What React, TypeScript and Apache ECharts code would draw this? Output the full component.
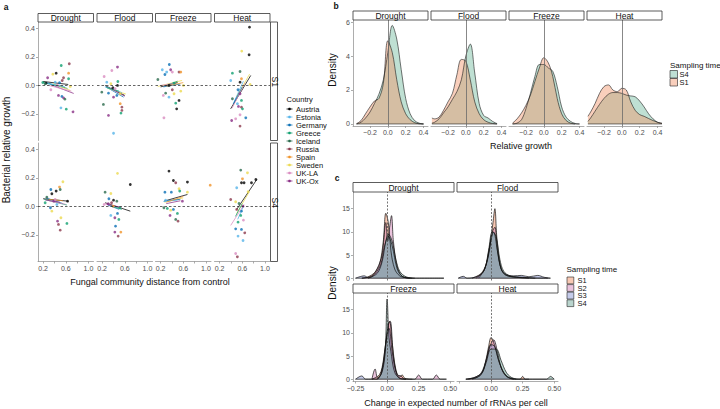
import React, { useEffect, useRef } from "react";
import * as echarts from "echarts";

const FONT = "'Liberation Sans', Arial, Helvetica, sans-serif";

// ---------------- Panel a data ----------------
const countries = ["Austria", "Estonia", "Germany", "Greece", "Iceland", "Russia", "Spain", "Sweden", "UK-LA", "UK-Ox"];
const countryColors = ["#000000", "#56B4E9", "#0a6fb5", "#10a070", "#2a6a4c", "#8c3a4e", "#f0932a", "#ecd94f", "#d98cc0", "#8a2f86"];
const stresses = ["Drought", "Flood", "Freeze", "Heat"];
const timesA = ["S1", "S4"];

// [fungal distance, bacterial relative growth, country index]
const ptsDroughtS1 = [[0.195,0.021,3],[0.253,0.016,0],[0.28,0.054,9],[0.337,-0.03,8],[0.372,0.079,7],[0.431,0.086,0],[0.49,0.019,2],[0.52,0.14,3],[0.538,0.035,5],[0.65,0.086,6],[0.662,0.152,5],[0.65,0.047,3],[0.532,-0.077,2],[0.561,-0.087,9],[0.585,-0.096,4],[0.515,-0.157,1],[0.609,-0.166,3],[0.728,-0.185,9],[0.561,0.054,5],[0.413,0.023,1],[0.236,0.012,4],[0.472,-0.07,9],[0.455,0,8],[0.68,-0.007,7]];
const ptsFloodS1 = [[0.236,0.063,8],[0.472,0.129,9],[0.372,0.105,8],[0.283,0.023,1],[0.355,0.012,7],[0.472,0,0],[0.478,0.028,3],[0.39,-0.016,0],[0.195,-0.047,4],[0.313,-0.054,2],[0.402,-0.082,9],[0.46,-0.07,2],[0.52,-0.128,6],[0.55,-0.175,5],[0.533,-0.194,3],[0.223,-0.133,4],[0.313,-0.21,9],[0.402,-0.335,1],[0.52,-0.058,7],[0.55,-0.152,5],[0.43,-0.023,8]];
const ptsFreezeS1 = [[0.152,0.042,4],[0.23,0.11,1],[0.276,0.077,2],[0.307,0.094,1],[0.354,0.147,2],[0.378,0.11,9],[0.407,0.094,8],[0.526,0.094,5],[0.556,0.094,6],[0.248,-0.07,8],[0.289,-0.054,4],[0.348,-0.082,1],[0.259,-0.227,8],[0.407,-0.03,5],[0.437,-0.058,7],[0.556,-0.04,7],[0.526,-0.105,0],[0.467,-0.124,3],[0.484,-0.164,0],[0.603,0,7],[0.437,0.016,3],[0.348,0.0,0]];
const ptsHeatS1 = [[0.728,0.409,0],[0.721,0.215,0],[0.591,0.241,7],[0.426,0.086,3],[0.561,0.098,4],[0.396,0.035,1],[0.561,0.023,0],[0.586,0.047,6],[0.739,0.007,7],[0.525,-0.03,2],[0.561,-0.058,9],[0.426,-0.093,4],[0.586,-0.105,3],[0.533,-0.147,9],[0.586,-0.152,5],[0.604,-0.164,3],[0.561,-0.206,8],[0.484,-0.234,8],[0.662,-0.227,2],[0.413,-0.246,9],[0.561,-0.285,5],[0.515,-0.128,1]];
const ptsDroughtS4 = [[0.236,0.026,3],[0.266,0.065,4],[0.337,0.119,2],[0.355,0.089,0],[0.431,0.108,0],[0.49,0.136,6],[0.502,0.119,4],[0.55,0.173,7],[0.632,0.037,0],[0.355,-0.033,7],[0.515,-0.079,7],[0.455,-0.103,9],[0.472,-0.126,5],[0.621,-0.119,3],[0.502,-0.166,5],[0.388,0.037,9],[0.413,0.049,8],[0.33,-0.009,2],[0.443,0.014,1]];
const ptsFloodS4 = [[0.253,0.1,4],[0.355,0.091,7],[0.472,0.232,7],[0.698,0.154,0],[0.402,0.044,0],[0.46,0.037,4],[0.32,0.054,2],[0.237,0.014,8],[0.308,0.019,9],[0.367,0.026,5],[0.396,0.002,6],[0.354,-0.063,1],[0.472,-0.049,2],[0.425,-0.079,9],[0.496,-0.091,3],[0.437,-0.138,2],[0.425,-0.18,9],[0.531,-0.18,6],[0.484,-0.208,5],[0.514,-0.009,3]];
const ptsFreezeS4 = [[0.348,0.248,0],[0.426,0.182,0],[0.467,0.166,5],[0.674,0.171,0],[1.076,0.149,6],[0.276,0.1,2],[0.39,0.1,2],[0.526,0.124,7],[0.538,0.108,3],[0.674,0.1,7],[0.259,-0.009,4],[0.319,-0.014,3],[0.378,-0.026,7],[0.426,-0.021,2],[0.367,-0.063,9],[0.497,-0.049,3],[0.467,-0.091,4],[0.508,-0.103,5],[0.585,0.037,9],[0.289,0.044,1]];
const ptsHeatS4 = [[0.573,0.255,4],[0.692,0.236,7],[0.604,0.194,6],[0.586,0.166,0],[0.632,0.166,0],[0.763,0.166,0],[0.84,0.189,0],[0.502,0.131,1],[0.704,0.103,7],[0.396,0.049,5],[0.484,0.033,7],[0.543,0.021,4],[0.614,0.002,9],[0.502,-0.021,5],[0.573,-0.063,3],[0.526,-0.11,3],[0.621,-0.096,8],[0.484,-0.157,2],[0.586,-0.161,2],[0.644,-0.185,5],[0.526,-0.208,1],[0.614,-0.239,1],[0.484,-0.33,8],[0.514,-0.353,5],[0.586,-0.033,2]];

// fitted lines: [x1, y1, x2, y2, country index]
const linDroughtS1 = [[0.2,0.028,0.644,0.007,0],[0.33,0.007,0.74,-0.056,9],[0.24,0.021,0.59,-0.014,2],[0.2,0.021,0.63,-0.021,3],[0.37,0.014,0.68,-0.035,7],[0.26,0.014,0.58,-0.007,1],[0.3,0.0,0.7,-0.04,8]];
const linFloodS1 = [[0.25,0.0,0.6,-0.07,0],[0.27,-0.01,0.58,-0.082,2],[0.3,-0.02,0.62,-0.06,7],[0.25,-0.01,0.55,-0.05,1],[0.35,-0.02,0.6,-0.075,9],[0.28,-0.015,0.5,-0.04,3]];
const linFreezeS1 = [[0.15,-0.007,0.58,0.035,7],[0.2,-0.01,0.5,0.02,0],[0.25,-0.01,0.55,0.01,2],[0.3,0.0,0.5,0.03,3],[0.2,0.0,0.45,0.015,8],[0.3,-0.005,0.6,0.02,6]];
const linHeatS1 = [[0.395,-0.164,0.75,0.07,0],[0.42,-0.16,0.65,0.02,8],[0.45,-0.12,0.62,0.03,1],[0.5,-0.08,0.73,0.08,7],[0.44,-0.13,0.6,-0.01,2]];
const linDroughtS4 = [[0.2,0.054,0.645,0.037,0],[0.22,0.05,0.62,0.01,3],[0.25,0.06,0.55,0.02,2],[0.3,0.04,0.6,0.015,8],[0.24,0.045,0.5,0.03,9],[0.3,0.05,0.55,0.04,6]];
const linFloodS4 = [[0.253,0.026,0.698,-0.033,0],[0.25,0.02,0.55,-0.01,8],[0.3,0.01,0.5,-0.02,2],[0.28,0.015,0.52,-0.005,9],[0.35,0.005,0.55,-0.02,3]];
const linFreezeS4 = [[0.259,0.037,0.674,0.084,0],[0.27,0.03,0.6,0.06,7],[0.28,0.04,0.55,0.05,2],[0.3,0.02,0.55,0.04,9],[0.25,0.035,0.5,0.045,1],[0.3,0.03,0.6,0.07,6]];
const linHeatS4 = [[0.502,-0.021,0.858,0.19,0],[0.396,-0.133,0.632,0.014,8],[0.5,-0.05,0.72,0.1,7],[0.52,-0.09,0.62,0.0,1],[0.48,-0.07,0.6,0.02,3]];

const aXTicks = [0.2, 0.4, 0.6, 0.8, 1.0];
const aXLabels = [0.2, 0.6, 1.0];
const aYTicks = [-0.2, 0, 0.2, 0.4];

// ---------------- Panel b data ----------------
const bX = [-0.38,-0.35,-0.3,-0.25,-0.2,-0.15,-0.1,-0.05,0,0.05,0.1,0.15,0.2,0.25,0.3,0.35,0.4,0.45];
const bDroughtS4 = [null,0,0.1,0.35,0.7,1.2,1.75,2.6,4.2,5.8,5.0,3.2,1.5,0.6,0.2,0.05,0,null];
const bDroughtS1 = [null,0.02,0.2,0.6,1.0,1.35,1.5,2.4,4.9,4.2,2.6,1.3,0.6,0.25,0.08,0.01,0,null];
const bFloodS4 = [0.05,0.1,0.3,0.65,1.0,1.45,1.9,2.6,4.0,4.7,3.0,1.2,0.5,0.35,0.15,0.02,null,null];
const bFloodS1 = [0.35,0.3,0.4,0.8,1.3,1.8,2.9,3.8,3.7,2.6,1.3,0.6,0.25,0.1,0.03,0,null,null];
const bFreezeS4 = [null,0,0.05,0.25,0.9,1.8,2.8,3.5,3.5,3.3,3.1,2.2,1.0,0.4,0.15,0.03,0,null];
const bFreezeS1 = [null,0.05,0.3,0.65,1.1,1.7,2.5,3.3,3.9,3.6,2.8,1.5,0.6,0.2,0.05,0,null,null];
const bHeatS4 = [0.15,0.35,0.75,1.15,1.5,1.75,1.85,1.85,1.8,1.7,1.65,1.6,1.35,1.0,0.6,0.3,0.1,0.02];
const bHeatS1 = [0.45,0.7,1.2,1.8,2.2,2.3,2.0,1.9,2.1,2.0,1.3,0.8,0.55,0.45,0.32,0.2,0.1,0.05];
const bTimes = ["S4", "S1"];
const bXTicks = [-0.2, 0, 0.2, 0.4];
const bYTicks = [0, 2, 4, 6];

// ---------------- Panel c data ----------------
const cDroughtS1 = [[-0.2,0],[-0.15,0.3],[-0.1,1.2],[-0.06,3],[-0.03,8],[-0.01,14],[0.01,12],[0.03,6],[0.06,2],[0.1,0.5],[0.15,0.1],[0.2,0]];
const cDroughtS2 = [[-0.2,0],[-0.12,0.5],[-0.08,2],[-0.04,5],[-0.01,12],[0.005,8],[0.02,11],[0.035,13.5],[0.05,8],[0.08,2.5],[0.12,0.4],[0.18,0]];
const cDroughtS3 = [[-0.25,0],[-0.18,0.5],[-0.15,0.1],[-0.1,0.8],[-0.05,3],[-0.02,7],[0.01,9],[0.04,7],[0.08,2],[0.12,0.4],[0.2,0],[0.45,0]];
const cDroughtS4 = [[-0.15,0],[-0.08,1],[-0.04,3.5],[-0.01,8],[0.01,9.5],[0.04,8],[0.07,4],[0.1,1.5],[0.15,0.3],[0.22,0]];
const cFloodS1 = [[-0.15,0],[-0.08,1],[-0.04,3],[-0.01,7],[0.015,12],[0.03,15],[0.045,9],[0.07,3],[0.1,1],[0.15,0.4],[0.2,0.2],[0.3,0.05],[0.45,0]];
const cFloodS2 = [[-0.12,0],[-0.06,1.5],[-0.02,5],[0.01,10],[0.03,11],[0.05,6],[0.08,2],[0.12,0.6],[0.2,0.2],[0.3,0]];
const cFloodS3 = [[-0.26,0],[-0.22,0.4],[-0.19,0],[-0.1,0.5],[-0.05,2],[-0.01,7],[0.02,10],[0.05,6],[0.08,2],[0.12,0.8],[0.18,0.5],[0.24,0.6],[0.3,0.3],[0.37,0.6],[0.42,0.2],[0.47,0]];
const cFloodS4 = [[-0.1,0],[-0.05,2],[-0.02,6],[0.01,10],[0.04,9],[0.07,4],[0.1,1.5],[0.15,0.5],[0.25,0.2],[0.35,0]];
const cFreezeS1 = [[-0.12,0],[-0.06,1],[-0.03,4],[0,10],[0.02,12.5],[0.04,8],[0.07,2],[0.1,0.5],[0.12,0.9],[0.14,0.2],[0.2,0]];
const cFreezeS2 = [[-0.12,0],[-0.095,2.2],[-0.075,0.3],[-0.05,1],[-0.02,5],[0.01,12],[0.025,12.5],[0.05,5],[0.08,1],[0.11,0.7],[0.14,0],[0.22,0],[0.25,0.9],[0.28,0],[0.36,0],[0.39,0.9],[0.42,0],[0.47,0]];
const cFreezeS3 = [[-0.25,0],[-0.2,0.7],[-0.17,0],[-0.08,0],[-0.04,2],[-0.01,8],[0.015,11],[0.04,6],[0.07,1.5],[0.1,0.2],[0.15,0]];
const cFreezeS4 = [[-0.08,0],[-0.04,1.5],[-0.015,6],[0,17.3],[0.015,9],[0.03,6],[0.06,1.5],[0.1,0.2],[0.15,0]];
const cHeatS1 = [[-0.2,0],[-0.12,0.3],[-0.08,1],[-0.05,3],[-0.02,7],[0,9],[0.02,8],[0.05,5],[0.08,2.5],[0.11,1],[0.15,0.2],[0.2,0],[0.23,0],[0.25,0.6],[0.27,0],[0.3,0]];
const cHeatS2 = [[-0.18,0],[-0.12,0.5],[-0.07,1.5],[-0.04,4],[-0.01,7],[0.02,8.5],[0.05,6],[0.08,2.5],[0.12,0.6],[0.18,0]];
const cHeatS3 = [[-0.2,0],[-0.13,0.4],[-0.08,1.3],[-0.04,4],[0,7.5],[0.03,7],[0.06,4],[0.1,1.5],[0.14,0.4],[0.2,0]];
const cHeatS4 = [[-0.15,0],[-0.08,1],[-0.04,3.5],[0,6.5],[0.04,6.5],[0.08,4],[0.12,1.5],[0.16,0.4],[0.22,0],[0.44,0],[0.47,0.6],[0.5,0]];
const cStresses = ["Drought", "Flood", "Freeze", "Heat"];
const cTimes = ["S1", "S2", "S3", "S4"];
const cXTicks = [-0.25, 0, 0.25, 0.5];
const cXLabelsRight = [0, 0.25, 0.5];
const cYTicks = [0, 5, 10, 15];

// ---------------- styles & layout ----------------
const AXIS = "#8a8a8a";
const LBL = "#4d4d4d";
const bFill: Record<string, string> = { S4: "rgba(109,185,155,0.44)", S1: "rgba(241,145,103,0.44)" };
const cFill: Record<string, string> = { S1: "rgba(241,145,103,0.5)", S2: "rgba(214,135,185,0.5)", S3: "rgba(140,152,214,0.5)", S4: "rgba(115,170,155,0.5)" };

const A_LEFTS = [38, 97, 155.5, 214.5], A_W = 55.5, A_TOPS = [22, 143], A_H = 118.5;
const B_LEFTS = [353, 431, 509, 587], B_W = 75, B_TOP = 20, B_H = 106;
const C_LEFTS = [353, 457], C_W = 101, C_TOPS = [192, 293], C_H = 88.5;

const minus = (s: string) => s.replace("-", "\u2212");

function buildOption() {
  const grid: any[] = [], xAxis: any[] = [], yAxis: any[] = [], series: any[] = [], els: any[] = [];

  const axis = (gi: number, range: number[], show: boolean, ticks: number[], labels: number[], dec: number) => ({
    type: "value", gridIndex: gi, min: range[0], max: range[1],
    splitLine: { show: false },
    axisLine: { show, onZero: false, lineStyle: { color: AXIS, width: 0.7 } },
    axisTick: { show, length: 2, customValues: ticks, lineStyle: { color: AXIS, width: 0.7 } },
    axisLabel: { show, customValues: labels, margin: 3, fontSize: 7, fontFamily: FONT, color: LBL,
      formatter: (v: number) => minus(v.toFixed(dec)) },
  });
  const txt = (x: number, y: number, text: string, size: number, o: any = {}) => ({
    type: "text", x, y, rotation: o.rot || 0, z: 100,
    style: { text, fontSize: size, fontFamily: FONT, fill: o.color || "#111", fontWeight: o.bold ? "bold" : "normal",
      align: o.align || "center", textAlign: o.align || "center", verticalAlign: "middle", textVerticalAlign: "middle" },
  });
  const strip = (x: number, y: number, w: number, h: number, text: string, vertical = false) => {
    els.push({ type: "rect", z: 99, shape: { x, y, width: w, height: h }, style: { fill: "#fff", stroke: "#333", lineWidth: 0.8 } });
    els.push(txt(x + w / 2 + (vertical ? 0.5 : 0), y + h / 2 + 0.5, text, 8.5, vertical ? { rot: -Math.PI / 2 } : {}));
  };

  // ----- Panel a -----
  const ptsA = [[ptsDroughtS1, ptsFloodS1, ptsFreezeS1, ptsHeatS1], [ptsDroughtS4, ptsFloodS4, ptsFreezeS4, ptsHeatS4]];
  const linA = [[linDroughtS1, linFloodS1, linFreezeS1, linHeatS1], [linDroughtS4, linFloodS4, linFreezeS4, linHeatS4]];
  timesA.forEach((t, r) => {
    stresses.forEach((s, c) => {
      const gi = grid.length;
      grid.push({ left: A_LEFTS[c], top: A_TOPS[r], width: A_W, height: A_H });
      xAxis.push(axis(gi, [0.11, 1.09], r === 1, aXTicks, aXLabels, 1));
      yAxis.push(axis(gi, [-0.386, 0.445], c === 0, aYTicks, aYTicks, 1));
      series.push({
        type: "lines", coordinateSystem: "cartesian2d", xAxisIndex: gi, yAxisIndex: gi, silent: true, z: 3,
        lineStyle: { width: 0.75, opacity: 1 },
        data: linA[r][c].map((l) => ({ coords: [[l[0], l[1]], [l[2], l[3]]], lineStyle: { color: countryColors[l[4]] } })),
      });
      series.push({
        type: "scatter", xAxisIndex: gi, yAxisIndex: gi, symbol: "circle", symbolSize: 2.8, silent: true, z: 4,
        data: ptsA[r][c].map((p) => ({ value: [p[0], p[1]], itemStyle: { color: countryColors[p[2]] } })),
        markLine: { silent: true, symbol: ["none", "none"], label: { show: false },
          lineStyle: { type: [2.5, 2], color: "#222", width: 0.7 }, data: [{ yAxis: 0 }] },
      });
      if (r === 0) strip(A_LEFTS[c], 13.5, A_W, 8.5, s);
    });
    strip(A_LEFTS[3] + A_W + 0.5, A_TOPS[r], 7, A_H, t, true);
  });
  els.push(txt(6, 7, "a", 8.5, { bold: true }));
  els.push(txt(6, 150, "Bacterial relative growth", 10, { rot: Math.PI / 2 }));
  els.push(txt(150, 282, "Fungal community distance from control", 9));
  // Country legend
  els.push(txt(286.5, 99.5, "Country", 7.5, { align: "left" }));
  countries.forEach((n, i) => {
    const y = 109 + i * 8;
    els.push({ type: "line", z: 100, shape: { x1: 286.5, y1: y, x2: 292.5, y2: y }, style: { stroke: countryColors[i], lineWidth: 0.8 } });
    els.push({ type: "circle", z: 100, shape: { cx: 289.5, cy: y, r: 1.3 }, style: { fill: countryColors[i] } });
    els.push(txt(296, y + 0.5, n, 7.5, { align: "left" }));
  });

  // ----- Panel b -----
  const bData: Record<string, (number | null)[][]> = {
    S4: [bDroughtS4, bFloodS4, bFreezeS4, bHeatS4],
    S1: [bDroughtS1, bFloodS1, bFreezeS1, bHeatS1],
  };
  stresses.forEach((s, c) => {
    const gi = grid.length;
    grid.push({ left: B_LEFTS[c], top: B_TOP, width: B_W, height: B_H });
    xAxis.push(axis(gi, [-0.39, 0.45], true, bXTicks, bXTicks, 1));
    yAxis.push(axis(gi, [-0.12, 6.12], c === 0, bYTicks, bYTicks, 0));
    let lo = Infinity, hi = -Infinity;
    bTimes.forEach((t) => {
      const pts: number[][] = [];
      bData[t][c].forEach((v, i) => { if (v !== null) { pts.push([bX[i], v]); lo = Math.min(lo, bX[i]); hi = Math.max(hi, bX[i]); } });
      series.push({
        type: "line", xAxisIndex: gi, yAxisIndex: gi, data: pts, smooth: 0.35, symbol: "none", silent: true,
        lineStyle: { color: "#1a1a1a", width: 0.6 }, areaStyle: { color: bFill[t], opacity: 1 },
      });
    });
    series.push({
      type: "line", xAxisIndex: gi, yAxisIndex: gi, data: [[lo, 0], [hi, 0]], symbol: "none", silent: true,
      lineStyle: { color: "#1a1a1a", width: 0.6 },
      markLine: { silent: true, symbol: ["none", "none"], label: { show: false },
        lineStyle: { type: "solid", color: "#6a6a6a", width: 0.8 }, data: [{ xAxis: 0 }] },
    });
    strip(B_LEFTS[c], 11, B_W, 9, s);
  });
  els.push(txt(336, 5.5, "b", 8.5, { bold: true }));
  els.push(txt(332, 70, "Density", 10, { rot: Math.PI / 2 }));
  els.push(txt(521, 146, "Relative growth", 9));
  els.push(txt(670, 65, "Sampling time", 8, { align: "left" }));
  bTimes.forEach((t, i) => {
    const y = 70.5 + i * 8;
    els.push({ type: "rect", z: 100, shape: { x: 670, y, width: 7.5, height: 7.5 }, style: { fill: bFill[t], stroke: "#222", lineWidth: 0.6 } });
    els.push(txt(679.5, y + 4, t, 7.5, { align: "left" }));
  });

  // ----- Panel c -----
  const cData: Record<string, number[][][]> = {
    S1: [cDroughtS1, cFloodS1, cFreezeS1, cHeatS1],
    S2: [cDroughtS2, cFloodS2, cFreezeS2, cHeatS2],
    S3: [cDroughtS3, cFloodS3, cFreezeS3, cHeatS3],
    S4: [cDroughtS4, cFloodS4, cFreezeS4, cHeatS4],
  };
  cStresses.forEach((s, k) => {
    const r = Math.floor(k / 2), c = k % 2;
    const gi = grid.length;
    grid.push({ left: C_LEFTS[c], top: C_TOPS[r], width: C_W, height: C_H });
    xAxis.push(axis(gi, [-0.27, 0.53], r === 1, cXTicks, c === 0 ? cXTicks : cXLabelsRight, 2));
    yAxis.push(axis(gi, [-0.5, 18.6], c === 0, cYTicks, cYTicks, 0));
    let lo = Infinity, hi = -Infinity;
    cTimes.forEach((t) => {
      const pts = cData[t][k];
      pts.forEach((p) => { lo = Math.min(lo, p[0]); hi = Math.max(hi, p[0]); });
      series.push({
        type: "line", xAxisIndex: gi, yAxisIndex: gi, data: pts, smooth: 0.35, symbol: "none", silent: true,
        lineStyle: { color: "#111", width: 0.7 }, areaStyle: { color: cFill[t], opacity: 1 },
      });
    });
    series.push({
      type: "line", xAxisIndex: gi, yAxisIndex: gi, data: [[lo, 0], [hi, 0]], symbol: "none", silent: true,
      lineStyle: { color: "#111", width: 0.7 },
      markLine: { silent: true, symbol: ["none", "none"], label: { show: false },
        lineStyle: { type: [2, 1.5], color: "#555", width: 0.8 }, data: [{ xAxis: 0 }] },
    });
    strip(C_LEFTS[c], r === 0 ? 182.5 : 284, C_W, r === 0 ? 9.5 : 9, s);
  });
  els.push(txt(337, 178, "c", 8.5, { bold: true }));
  els.push(txt(332, 283, "Density", 10, { rot: Math.PI / 2 }));
  els.push(txt(456, 403, "Change in expected number of rRNAs per cell", 9));
  els.push(txt(566.5, 269.5, "Sampling time", 8, { align: "left" }));
  cTimes.forEach((t, i) => {
    const y = 277 + i * 7.6;
    els.push({ type: "rect", z: 100, shape: { x: 567, y, width: 6.8, height: 6.8 }, style: { fill: cFill[t], stroke: "#222", lineWidth: 0.6 } });
    els.push(txt(577.5, y + 3.6, t, 7.5, { align: "left" }));
  });

  return {
    animation: false,
    backgroundColor: "#ffffff",
    grid, xAxis, yAxis, series,
    graphic: { elements: els },
  };
}

export default function App() {
  const ref = useRef<HTMLDivElement>(null);
  useEffect(() => {
    if (!ref.current) return;
    const chart = echarts.init(ref.current, null, { renderer: "svg" });
    chart.setOption(buildOption() as any);
    return () => chart.dispose();
  }, []);
  return <div ref={ref} style={{ position: "fixed", left: 0, top: 0, width: 720, height: 409, background: "#fff" }} />;
}
